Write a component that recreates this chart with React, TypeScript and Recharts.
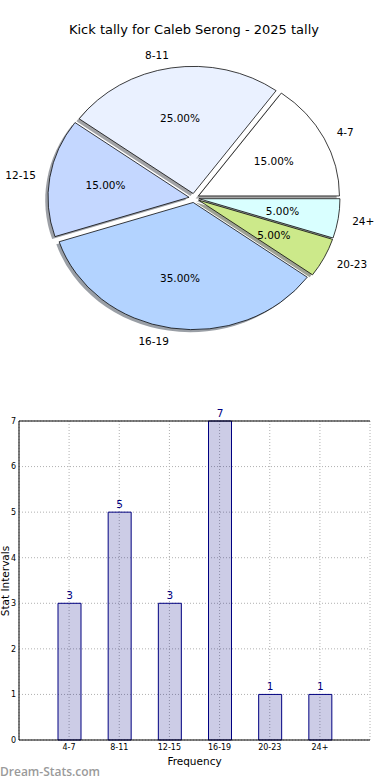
import React from 'react';
import {
  PieChart,
  Pie,
  Sector,
  BarChart,
  Bar,
  XAxis,
  YAxis,
  CartesianGrid,
  LabelList,
  ReferenceLine,
} from 'recharts';

const ranges = ['4-7', '8-11', '12-15', '16-19', '20-23', '24+'];
const counts = [3, 5, 3, 7, 1, 1];
const sliceColors = ['#ffffff', '#eaf1ff', '#c4d7ff', '#b3d3ff', '#cce98a', '#d9ffff'];
const yTicks = [0, 1, 2, 3, 4, 5, 6, 7];
const yMax = 7;

const pieData = ranges.map((name, i) => ({ name, value: counts[i] }));
const barData = ranges.map((range, i) => ({ range, count: counts[i] }));

const FONT = '"DejaVu Sans", sans-serif';

// pie geometry (matplotlib pie in a non-square axes -> squashed vertically)
const CX = 194;
const CY = 198;
const R = 141;
const KY = 0.902;
const EXPLODE = 5;

const squash = `matrix(1 0 0 ${KY} 0 ${CY * (1 - KY)})`;

const darken = (hex: string) => {
  const n = parseInt(hex.slice(1), 16);
  const r = Math.round(((n >> 16) & 255) * 0.3);
  const g = Math.round(((n >> 8) & 255) * 0.3);
  const b = Math.round((n & 255) * 0.3);
  return `rgb(${r},${g},${b})`;
};

const offsetOf = (midAngle: number) => {
  const rad = (midAngle * Math.PI) / 180;
  return { dx: EXPLODE * Math.cos(rad), dy: -EXPLODE * Math.sin(rad), cos: Math.cos(rad), sin: Math.sin(rad) };
};

const renderShadow = (props: any) => {
  const { index, midAngle, startAngle, endAngle } = props;
  const { dx, dy } = offsetOf(midAngle);
  return (
    <g key={`sh-${index}`} transform={`translate(-2.8 2.5)`}>
      <g transform={squash}>
        <Sector
          cx={CX + dx}
          cy={CY + dy}
          innerRadius={0}
          outerRadius={R}
          startAngle={startAngle}
          endAngle={endAngle}
          fill={darken(sliceColors[index])}
          fillOpacity={0.5}
          stroke="none"
        />
      </g>
    </g>
  );
};

const renderWedge = (props: any) => {
  const { index, midAngle, startAngle, endAngle, percent, name } = props;
  const { dx, dy, cos, sin } = offsetOf(midAngle);
  const pr = 0.6 * R;
  const lr = 1.1 * R;
  return (
    <g key={`w-${index}`}>
      <g transform={squash}>
        <Sector
          cx={CX + dx}
          cy={CY + dy}
          innerRadius={0}
          outerRadius={R}
          startAngle={startAngle}
          endAngle={endAngle}
          fill={sliceColors[index]}
          stroke="#000"
          strokeWidth={0.8}
        />
      </g>
      <text
        x={CX + dx + pr * cos}
        y={CY + KY * (dy - pr * sin)}
        textAnchor="middle"
        dominantBaseline="central"
        fontSize={10.5}
        fontFamily={FONT}
        fill="#000"
      >
        {(percent * 100).toFixed(2)}%
      </text>
      <text
        x={CX + dx + lr * cos}
        y={CY + KY * (dy - lr * sin)}
        textAnchor={cos > 0 ? 'start' : 'end'}
        dominantBaseline="central"
        fontSize={10.5}
        fontFamily={FONT}
        fill="#000"
      >
        {name}
      </text>
    </g>
  );
};

const gridColor = '#b0b0b0';

export default function App() {
  return (
    <div style={{ position: 'absolute', left: 0, top: 0, width: 390, height: 780, background: '#fff', overflow: 'hidden' }}>
      <div
        style={{
          position: 'absolute',
          top: 22,
          left: 0,
          width: 388,
          textAlign: 'center',
          fontFamily: FONT,
          fontSize: 13,
          lineHeight: '16px',
          color: '#000',
        }}
      >
        Kick tally for Caleb Serong - 2025 tally
      </div>

      <div style={{ position: 'absolute', top: 0, left: 0 }}>
        <PieChart width={390} height={380}>
          <Pie
            data={pieData}
            dataKey="value"
            nameKey="name"
            cx={CX}
            cy={CY}
            outerRadius={R}
            startAngle={0}
            endAngle={360}
            fill="none"
            stroke="none"
            labelLine={false}
            label={renderShadow}
            isAnimationActive={false}
          />
          <Pie
            data={pieData}
            dataKey="value"
            nameKey="name"
            cx={CX}
            cy={CY}
            outerRadius={R}
            startAngle={0}
            endAngle={360}
            fill="none"
            stroke="none"
            labelLine={false}
            label={renderWedge}
            isAnimationActive={false}
          />
        </PieChart>
      </div>

      <div style={{ position: 'absolute', top: 400, left: 0 }}>
        <BarChart width={390} height={380} data={barData} margin={{ top: 21, right: 20, left: 0, bottom: 0 }}>
          <CartesianGrid xAxisId="b" yAxisId="l" stroke={gridColor} strokeDasharray="1 2" />
          <XAxis
            xAxisId="b"
            dataKey="range"
            padding={{ left: 25, right: 25 }}
            height={40}
            tickSize={0}
            tickMargin={4}
            axisLine={{ stroke: '#000' }}
            tick={{ fontSize: 8, fill: '#000', fontFamily: FONT }}
            interval={0}
          />
          <YAxis
            yAxisId="l"
            width={19}
            domain={[0, yMax]}
            ticks={yTicks}
            tickSize={0}
            tickMargin={3}
            axisLine={{ stroke: '#000' }}
            tick={{ fontSize: 8, fill: '#000', fontFamily: FONT }}
          />
          <YAxis
            yAxisId="lm"
            mirror
            width={0}
            domain={[0, yMax]}
            ticks={yTicks}
            tickSize={3}
            tick={false}
            axisLine={false}
            tickLine={{ stroke: '#000' }}
          />
          <YAxis
            yAxisId="r"
            orientation="right"
            mirror
            width={0}
            domain={[0, yMax]}
            ticks={yTicks}
            tickSize={3}
            tick={false}
            axisLine={{ stroke: '#000' }}
            tickLine={{ stroke: '#000' }}
          />
          <ReferenceLine xAxisId="b" yAxisId="l" y={yMax} stroke="#000" strokeWidth={1} />
          <Bar
            xAxisId="b"
            yAxisId="l"
            dataKey="count"
            barSize={23}
            fill="#000080"
            fillOpacity={0.2}
            stroke="#000080"
            strokeWidth={1}
            isAnimationActive={false}
          >
            <LabelList dataKey="count" position="top" offset={4} fill="#000080" fontSize={10.5} fontFamily={FONT} />
          </Bar>
        </BarChart>
      </div>

      <div
        style={{
          position: 'absolute',
          left: 5,
          top: 581,
          transform: 'translate(-50%, -50%) rotate(-90deg)',
          fontFamily: FONT,
          fontSize: 10.5,
          lineHeight: 1,
          whiteSpace: 'nowrap',
          color: '#000',
        }}
      >
        Stat Intervals
      </div>
      <div
        style={{
          position: 'absolute',
          left: 0,
          width: 389,
          top: 755,
          textAlign: 'center',
          fontFamily: FONT,
          fontSize: 10.5,
          lineHeight: '12px',
          color: '#000',
        }}
      >
        Frequency
      </div>
      <div
        style={{
          position: 'absolute',
          left: 0,
          top: 765,
          fontFamily: '"Open Sans", sans-serif',
          fontWeight: 600,
          fontSize: 12,
          lineHeight: '14px',
          color: '#9a9a9a',
        }}
      >
        Dream-Stats.com
      </div>
    </div>
  );
}
